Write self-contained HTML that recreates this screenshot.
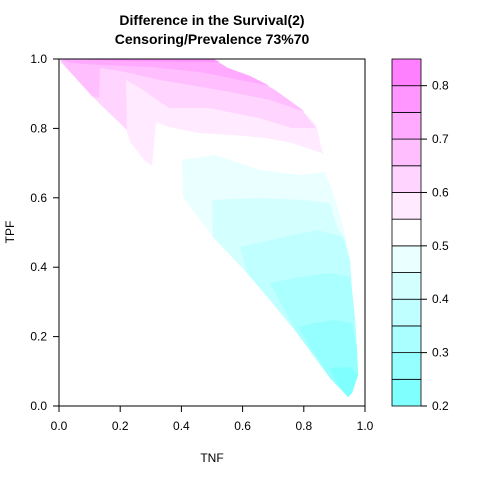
<!DOCTYPE html>
<html><head><meta charset="utf-8"><style>
body{margin:0;background:#fff}
svg text{font-family:"Liberation Sans",Arial,sans-serif}
</style></head><body>
<svg id="c" width="480" height="480" xmlns="http://www.w3.org/2000/svg"></svg>
<script>
// contour levels and colours
const levels=[0.2,0.25,0.3,0.35,0.4,0.45,0.5,0.55,0.6,0.65,0.7,0.75,0.8,0.85];
const colors=["#80FFFF","#95FFFF","#AAFFFF","#BFFFFF","#D4FFFF","#EAFFFF","#FFFFFF","#FFEAFF","#FFD4FF","#FFBFFF","#FFAAFF","#FF95FF","#FF80FF"];
const xTicks=[0,0.2,0.4,0.6,0.8,1.0];
const yTicks=[0,0.2,0.4,0.6,0.8,1.0];
const legendTicks=[0.2,0.3,0.4,0.5,0.6,0.7,0.8];
// contour band polygons as [TNF,TPF] vertices (pixel-read), with level index
const bandLevels=[5,4,3,2,1,0,7,8,9,10,11];
const bandPolys=[
 [[182,160],[215,155],[260,170],[300,175],[325,172],[332,190],[340,215],[345,235],[350,260],[352,290],[355,320],[357,350],[358,375],[352,393],[348,397],[330,378],[297,333],[270,300],[247,273],[213,237],[183,197]],
 [[212,200],[260,198],[303,200],[330,203],[337,227],[345,240],[350,270],[355,320],[357,350],[358,375],[352,393],[348,397],[330,378],[297,333],[270,300],[247,273],[213,237]],
 [[240,247],[280,238],[317,230],[343,237],[350,260],[352,290],[355,320],[357,350],[358,375],[352,393],[348,397],[330,378],[297,333],[270,300],[247,273]],
 [[270,283],[300,277],[330,273],[350,277],[352,290],[355,320],[357,350],[358,375],[352,393],[348,397],[330,378],[297,333]],
 [[298,327],[315,323],[333,320],[352,323],[355,340],[357,350],[358,375],[352,393],[348,397],[330,378]],
 [[330,368],[350,367],[358,375],[352,393],[348,397],[338,385]],
 [[60,59],[213,59],[228,68],[250,76],[275,90],[300,108],[316,125],[322,150],[324,156],[322,153],[292,143],[266,138],[232,135],[199,133],[169,127],[156,122],[152,166],[144,160],[130,142],[126,128],[102,106],[92,96],[62,63]],
 [[60,59],[213,59],[228,68],[250,76],[275,90],[300,108],[316,128],[292,128],[259,118],[209,108],[169,108],[140,88],[126,80],[127,130],[102,106],[92,96],[62,63]],
 [[60,59],[213,59],[228,68],[250,76],[275,90],[300,108],[305,112],[270,100],[230,92],[190,85],[160,80],[125,72],[100,68],[99,98],[92,96],[62,63]],
 [[62,59],[213,59],[228,68],[250,76],[270,86],[240,80],[200,72],[150,67],[100,65],[70,63]],
 [[70,59],[213,59],[220,62],[180,62],[120,61]]
].map(p=>p.map(([a,b])=>[(a-59)/306,(406-b)/347]));
const NS="http://www.w3.org/2000/svg",svg=document.getElementById('c');
const X0=59,X1=365,Y0=406,Y1=59;
const sx=v=>X0+v*(X1-X0), sy=v=>Y0-v*(Y0-Y1);
const LY=v=>406-(v-0.2)/(0.85-0.2)*347;
function mk(t,a,txt){const e=document.createElementNS(NS,t);for(const k in a)e.setAttribute(k,a[k]);if(txt!=null)e.textContent=txt;svg.appendChild(e);return e;}
bandPolys.forEach((p,i)=>{
 const e=mk('polygon',{points:p.map(([a,b])=>sx(a)+','+sy(b)).join(' '),fill:colors[bandLevels[i]]});
 
 
});
let f=mk('rect',{x:X0,y:Y1,width:X1-X0,height:Y0-Y1,fill:'none',stroke:'#000'});

xTicks.forEach(v=>{mk('line',{x1:sx(v),x2:sx(v),y1:Y0,y2:Y0+6,stroke:'#000'});
 const t=mk('text',{x:sx(v),y:Y0+24,'font-size':12,'text-anchor':'middle'},v.toFixed(1));
 });
yTicks.forEach(v=>{mk('line',{x1:X0-6,x2:X0,y1:sy(v),y2:sy(v),stroke:'#000'});
 const t=mk('text',{x:X0-12,y:sy(v)+4,'font-size':12,'text-anchor':'end'},v.toFixed(1));
 });
colors.forEach((c,i)=>{const r=mk('rect',{x:392,y:LY(levels[i+1]),width:29,height:LY(levels[i])-LY(levels[i+1]),fill:c,stroke:'#000','stroke-width':0.8});
 });
legendTicks.forEach(v=>{mk('line',{x1:421,x2:427,y1:LY(v),y2:LY(v),stroke:'#000'});
 const t=mk('text',{x:432,y:LY(v)+4,'font-size':12},v.toFixed(1));
 });
let t1=mk('text',{x:212,y:25,'font-size':14,'font-weight':'bold','text-anchor':'middle'},'Difference in the Survival(2)');

let t2=mk('text',{x:212,y:44,'font-size':14,'font-weight':'bold','text-anchor':'middle'},'Censoring/Prevalence 73%70');

let xl=mk('text',{x:212,y:462,'font-size':12,'text-anchor':'middle'},'TNF');

let yl=mk('text',{x:0,y:0,'font-size':12,'text-anchor':'middle',transform:'translate(14,232) rotate(-90)'},'TPF');

</script>
</body></html>
